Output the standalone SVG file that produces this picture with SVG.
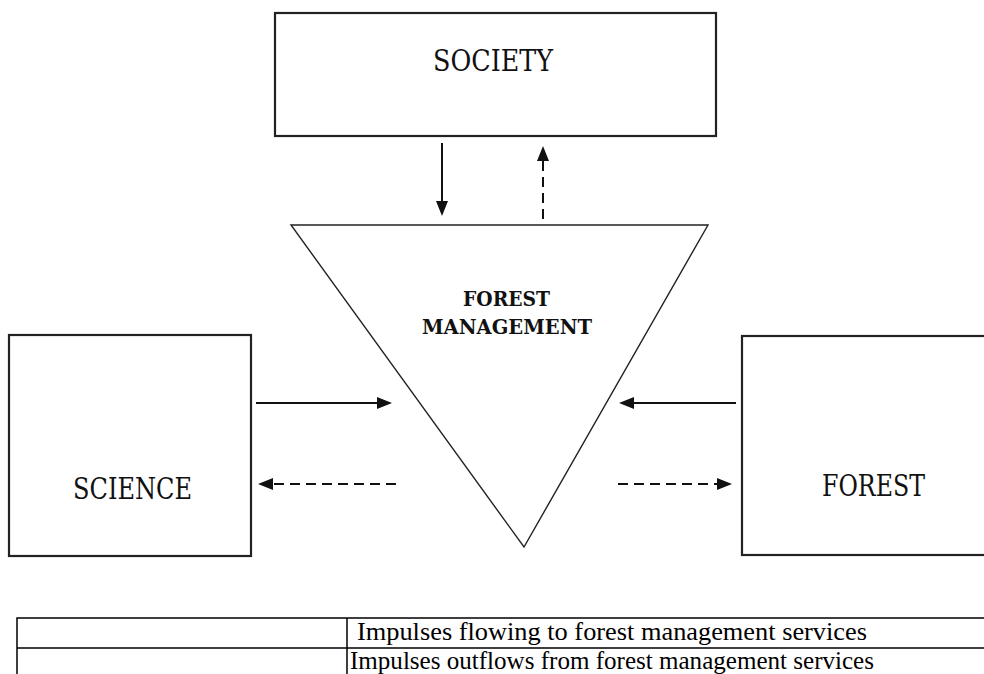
<svg xmlns="http://www.w3.org/2000/svg" width="984" height="674" viewBox="0 0 984 674">
<style>
.box{fill:#fff;stroke:#222;stroke-width:2.2}
.tri{fill:#fff;stroke:#222;stroke-width:1.4}
.lbl{font-family:"DejaVu Serif","Liberation Serif",serif;font-size:29px;fill:#111}
.fm{font-family:"DejaVu Serif","Liberation Serif",serif;font-size:21px;font-weight:bold;fill:#111}
.solid{stroke:#111;stroke-width:2;fill:none}
.dash{stroke:#111;stroke-width:2;fill:none;stroke-dasharray:10 6}
.tbl{stroke:#000;stroke-width:1.5;fill:none}
.tt{font-family:"Liberation Serif","Times New Roman",serif;font-size:25px;fill:#000}
</style>
<defs>
<marker id="ah" markerUnits="userSpaceOnUse" markerWidth="16" markerHeight="13" refX="1" refY="6.5" orient="auto">
<path d="M0,0.5 L15,6.5 L0,12.5 z" fill="#111"/>
</marker>
</defs>
<rect width="984" height="674" fill="#fff"/>
<g id="society">
<rect class="box" x="275" y="13" width="441" height="123"/>
<text class="lbl" x="433" y="71" textLength="120" lengthAdjust="spacingAndGlyphs">SOCIETY</text>
</g>
<g id="forest-management">
<polygon class="tri" points="291,225 708,225 524,547"/>
<text class="fm" x="463" y="306" textLength="87" lengthAdjust="spacingAndGlyphs">FOREST</text>
<text class="fm" x="422" y="334" textLength="170" lengthAdjust="spacingAndGlyphs">MANAGEMENT</text>
</g>
<g id="science">
<rect class="box" x="9" y="335" width="242" height="221"/>
<text class="lbl" x="73" y="499" textLength="119" lengthAdjust="spacingAndGlyphs">SCIENCE</text>
</g>
<g id="forest">
<rect class="box" x="742" y="336" width="260" height="219"/>
<text class="lbl" x="822" y="496" textLength="103" lengthAdjust="spacingAndGlyphs">FOREST</text>
</g>
<g id="connectors">
<line class="solid" x1="442" y1="143" x2="442" y2="202" marker-end="url(#ah)"/>
<line class="dash" x1="543" y1="219" x2="543" y2="160" marker-end="url(#ah)"/>
<line class="solid" x1="256" y1="403" x2="378" y2="403" marker-end="url(#ah)"/>
<line class="dash" x1="396" y1="484" x2="272" y2="484" marker-end="url(#ah)"/>
<line class="solid" x1="736" y1="403" x2="633" y2="403" marker-end="url(#ah)"/>
<line class="dash" x1="618" y1="484" x2="718" y2="484" marker-end="url(#ah)"/>
</g>
<g id="legend">
<path class="tbl" d="M17,674 V618 H990 M17,648 H990 M347,618 V674"/>
<text class="tt" x="357" y="640" textLength="510" lengthAdjust="spacingAndGlyphs">Impulses flowing to forest management services</text>
<text class="tt" x="350" y="669" textLength="524" lengthAdjust="spacingAndGlyphs">Impulses outflows from forest management services</text>
</g>
</svg>
